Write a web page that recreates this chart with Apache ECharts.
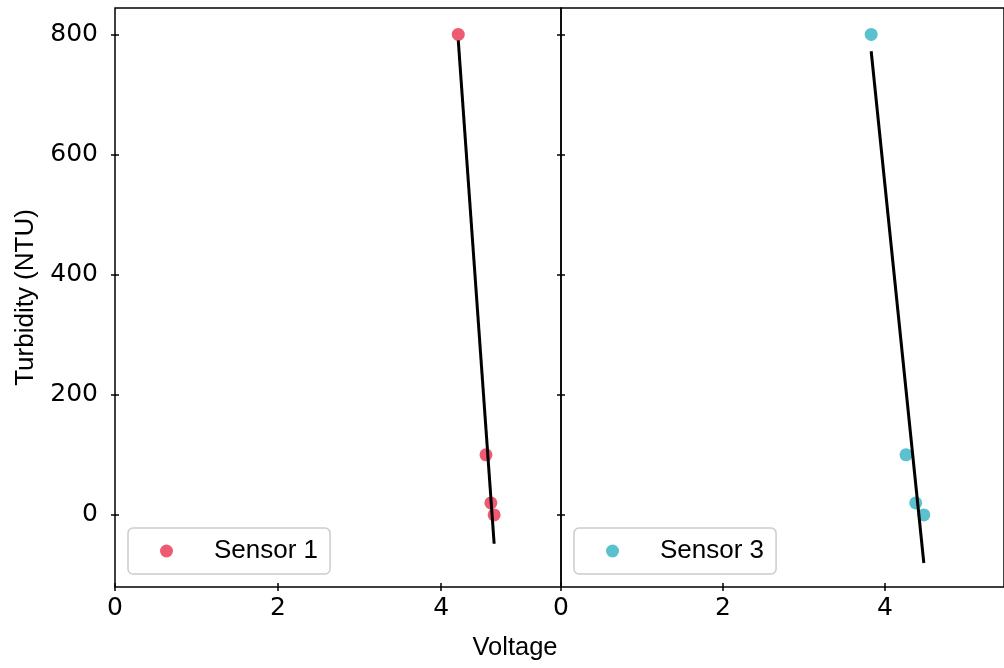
<!DOCTYPE html>
<html>
<head>
<meta charset="utf-8">
<script src="https://cdn.jsdelivr.net/npm/echarts@6/dist/echarts.min.js"></script>
<style>
  html, body { margin: 0; padding: 0; background: #fff; }
  #chart { width: 1004px; height: 668px; }
</style>
</head>
<body>
<div id="chart"></div>
<script>
// Calibration readings: voltage vs. turbidity for two sensors
const sensor1Voltage = [4.21, 4.55, 4.61, 4.65];
const sensor1Turbidity = [800, 100, 20, 0];
const sensor3Voltage = [3.83, 4.26, 4.38, 4.48];
const sensor3Turbidity = [800, 100, 20, 0];

// Linear fit endpoints (at the smallest and largest voltage of each sensor)
const fit1Voltage = [4.21, 4.65];
const fit1Turbidity = [790, -48];
const fit3Voltage = [3.83, 4.48];
const fit3Turbidity = [772, -80];

const yTicks = [0, 200, 400, 600, 800];
const xTicks = [0, 2, 4];

const seriesNames = ['Sensor 1', 'Sensor 3'];
const seriesColors = ['#ee5a71', '#5bc1cf'];

const pairs = (xs, ys) => xs.map((x, i) => [x, ys[i]]);

const X_MIN = 0, X_MAX = 5.47, Y_MIN = -120, Y_MAX = 844;
const tickFont = { fontFamily: 'DejaVu Sans', fontSize: 25, color: '#000' };
const labelFont = 'Liberation Sans';
const tickLine = { color: '#000', width: 1.5 };

function xAxisPair(gridIndex) {
  const base = {
    type: 'value', gridIndex, min: X_MIN, max: X_MAX, position: 'bottom',
    splitLine: { show: false }, axisLine: { show: false, onZero: false }
  };
  return [
    Object.assign({}, base, {
      axisTick: { show: true, inside: false, length: 4, lineStyle: tickLine, customValues: xTicks },
      axisLabel: Object.assign({ margin: 9, customValues: xTicks }, tickFont)
    }),
    Object.assign({}, base, {
      axisTick: { show: true, inside: true, length: 4, lineStyle: tickLine, customValues: xTicks },
      axisLabel: { show: false }
    })
  ];
}

function yAxisPair(gridIndex, withLabels) {
  const base = {
    type: 'value', gridIndex, min: Y_MIN, max: Y_MAX, position: 'left',
    splitLine: { show: false }, axisLine: { show: false, onZero: false }
  };
  const outer = Object.assign({}, base, {
    axisTick: { show: true, inside: false, length: 4, lineStyle: tickLine, customValues: yTicks },
    axisLabel: withLabels ? Object.assign({ margin: 17, customValues: yTicks }, tickFont) : { show: false }
  });
  if (withLabels) {
    Object.assign(outer, {
      name: 'Turbidity (NTU)', nameLocation: 'middle', nameRotate: 90, nameGap: 76,
      nameTextStyle: { fontFamily: labelFont, fontSize: 26, color: '#000' }
    });
  }
  return [
    outer,
    Object.assign({}, base, {
      axisTick: { show: true, inside: true, length: 4, lineStyle: tickLine, customValues: yTicks },
      axisLabel: { show: false }
    })
  ];
}

function legendFor(name, left) {
  return {
    data: [name], left, top: 528, orient: 'vertical',
    icon: 'circle', itemWidth: 13, itemHeight: 13,
    padding: [8, 12, 8, 32],
    backgroundColor: 'rgba(255,255,255,0.8)',
    borderColor: '#cccccc', borderWidth: 1.5, borderRadius: 5,
    formatter: n => '{g|}' + n,
    textStyle: {
      fontFamily: labelFont, fontSize: 26, color: '#000', lineHeight: 30,
      rich: { g: { width: 36 } }
    }
  };
}

const option = {
  animation: false,
  backgroundColor: '#fff',
  grid: [
    { left: 115, top: 8, width: 446, height: 579, show: true, borderColor: '#000', borderWidth: 1.5, backgroundColor: 'transparent' },
    { left: 561, top: 8, width: 446, height: 579, show: true, borderColor: '#000', borderWidth: 1.5, backgroundColor: 'transparent' }
  ],
  xAxis: [...xAxisPair(0), ...xAxisPair(1)],
  yAxis: [...yAxisPair(0, true), ...yAxisPair(1, false)],
  legend: [legendFor(seriesNames[0], 128), legendFor(seriesNames[1], 574)],
  graphic: [{
    type: 'text', x: 515, y: 648,
    style: { text: 'Voltage', textAlign: 'center', textVerticalAlign: 'middle', font: '25.5px "Liberation Sans"', fill: '#000' }
  }],
  series: [
    {
      name: seriesNames[0], type: 'scatter', xAxisIndex: 0, yAxisIndex: 0,
      symbolSize: 13, itemStyle: { color: seriesColors[0], opacity: 1 },
      data: pairs(sensor1Voltage, sensor1Turbidity), z: 2
    },
    {
      name: 'fit1', type: 'line', xAxisIndex: 0, yAxisIndex: 0,
      symbol: 'none', lineStyle: { color: '#000', width: 3 },
      data: pairs(fit1Voltage, fit1Turbidity), z: 3
    },
    {
      name: seriesNames[1], type: 'scatter', xAxisIndex: 2, yAxisIndex: 2,
      symbolSize: 13, itemStyle: { color: seriesColors[1], opacity: 1 },
      data: pairs(sensor3Voltage, sensor3Turbidity), z: 2
    },
    {
      name: 'fit3', type: 'line', xAxisIndex: 2, yAxisIndex: 2,
      symbol: 'none', lineStyle: { color: '#000', width: 3 },
      data: pairs(fit3Voltage, fit3Turbidity), z: 3
    }
  ]
};

const chart = echarts.init(document.getElementById('chart'), null, { renderer: 'canvas' });
chart.setOption(option);
</script>
</body>
</html>
